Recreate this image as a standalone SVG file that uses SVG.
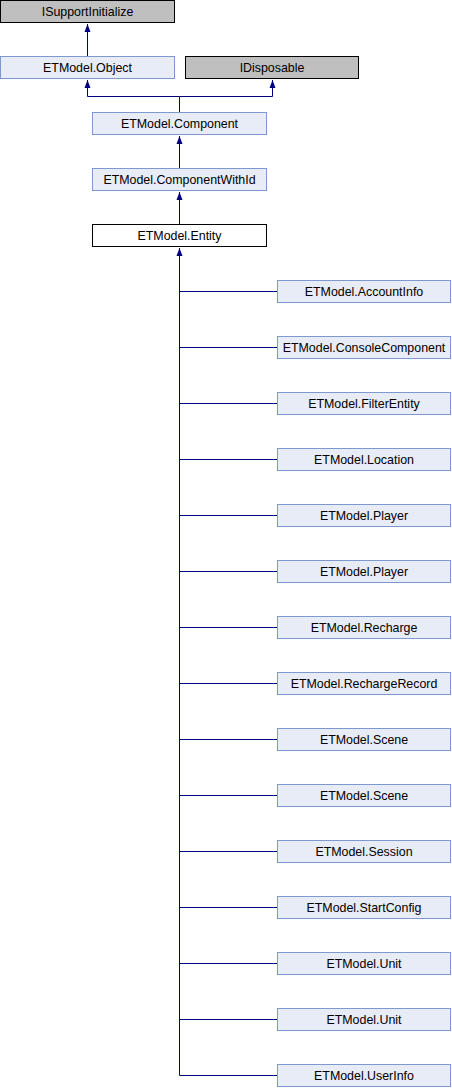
<svg xmlns="http://www.w3.org/2000/svg" width="452" height="1088" viewBox="0 0 452 1088">
<defs>
<style>
.c{fill:#E8ECF6;stroke:#7D99D0;stroke-width:1}
.g{fill:#BFBFBF;stroke:#000;stroke-width:1}
.w{fill:#FFF;stroke:#000;stroke-width:1}
text{font-family:"Liberation Sans",Arial,sans-serif;font-size:12.4px;fill:#000;text-anchor:middle}
.e{fill:none;stroke:#000080;stroke-width:1}
</style>
<marker id="a" viewBox="0 0 8 8" refX="8" refY="4" markerWidth="8" markerHeight="8" markerUnits="userSpaceOnUse" orient="auto">
<path d="M8,4 L0,1 L0,7 Z" fill="#000080"/>
</marker>
</defs>
<g id="connectors">
<path class="e" d="M87.5,56 V24" marker-end="url(#a)"/>
<path class="e" d="M179.5,112 V96.5 H87.5 V80" marker-end="url(#a)"/>
<path class="e" d="M179.5,96.5 H272.5 V80" marker-end="url(#a)"/>
<path class="e" d="M179.5,168 V136" marker-end="url(#a)"/>
<path class="e" d="M179.5,224 V192" marker-end="url(#a)"/>
<path class="e" d="M179.5,1075.5 V248" marker-end="url(#a)"/>
<path class="e" d="M179.5,291.5 H277 M179.5,347.5 H277 M179.5,403.5 H277 M179.5,459.5 H277 M179.5,515.5 H277 M179.5,571.5 H277 M179.5,627.5 H277 M179.5,683.5 H277 M179.5,739.5 H277 M179.5,795.5 H277 M179.5,851.5 H277 M179.5,907.5 H277 M179.5,963.5 H277 M179.5,1019.5 H277 M179.5,1075.5 H277"/>
</g>
<g id="ISupportInitialize"><rect class="g" x="0.5" y="0.5" width="174" height="22"/><text x="87.5" y="16">ISupportInitialize</text></g>
<g id="ETModel.Object"><rect class="c" x="0.5" y="56.5" width="174" height="22"/><text x="87.5" y="72">ETModel.Object</text></g>
<g id="IDisposable"><rect class="g" x="185.5" y="56.5" width="173" height="22"/><text x="272" y="72">IDisposable</text></g>
<g id="ETModel.Component"><rect class="c" x="92.5" y="112.5" width="174" height="22"/><text x="179.5" y="128">ETModel.Component</text></g>
<g id="ETModel.ComponentWithId"><rect class="c" x="92.5" y="168.5" width="174" height="22"/><text x="179.5" y="184">ETModel.ComponentWithId</text></g>
<g id="ETModel.Entity"><rect class="w" x="92.5" y="224.5" width="174" height="22"/><text x="179.5" y="240">ETModel.Entity</text></g>
<g id="ETModel.AccountInfo"><rect class="c" x="277.5" y="280.5" width="173" height="22"/><text x="364" y="296">ETModel.AccountInfo</text></g>
<g id="ETModel.ConsoleComponent"><rect class="c" x="277.5" y="336.5" width="173" height="22"/><text x="364" y="352">ETModel.ConsoleComponent</text></g>
<g id="ETModel.FilterEntity"><rect class="c" x="277.5" y="392.5" width="173" height="22"/><text x="364" y="408">ETModel.FilterEntity</text></g>
<g id="ETModel.Location"><rect class="c" x="277.5" y="448.5" width="173" height="22"/><text x="364" y="464">ETModel.Location</text></g>
<g id="ETModel.Player1"><rect class="c" x="277.5" y="504.5" width="173" height="22"/><text x="364" y="520">ETModel.Player</text></g>
<g id="ETModel.Player2"><rect class="c" x="277.5" y="560.5" width="173" height="22"/><text x="364" y="576">ETModel.Player</text></g>
<g id="ETModel.Recharge"><rect class="c" x="277.5" y="616.5" width="173" height="22"/><text x="364" y="632">ETModel.Recharge</text></g>
<g id="ETModel.RechargeRecord"><rect class="c" x="277.5" y="672.5" width="173" height="22"/><text x="364" y="688">ETModel.RechargeRecord</text></g>
<g id="ETModel.Scene1"><rect class="c" x="277.5" y="728.5" width="173" height="22"/><text x="364" y="744">ETModel.Scene</text></g>
<g id="ETModel.Scene2"><rect class="c" x="277.5" y="784.5" width="173" height="22"/><text x="364" y="800">ETModel.Scene</text></g>
<g id="ETModel.Session"><rect class="c" x="277.5" y="840.5" width="173" height="22"/><text x="364" y="856">ETModel.Session</text></g>
<g id="ETModel.StartConfig"><rect class="c" x="277.5" y="896.5" width="173" height="22"/><text x="364" y="912">ETModel.StartConfig</text></g>
<g id="ETModel.Unit1"><rect class="c" x="277.5" y="952.5" width="173" height="22"/><text x="364" y="968">ETModel.Unit</text></g>
<g id="ETModel.Unit2"><rect class="c" x="277.5" y="1008.5" width="173" height="22"/><text x="364" y="1024">ETModel.Unit</text></g>
<g id="ETModel.UserInfo"><rect class="c" x="277.5" y="1064.5" width="173" height="22"/><text x="364" y="1080">ETModel.UserInfo</text></g>
</svg>
